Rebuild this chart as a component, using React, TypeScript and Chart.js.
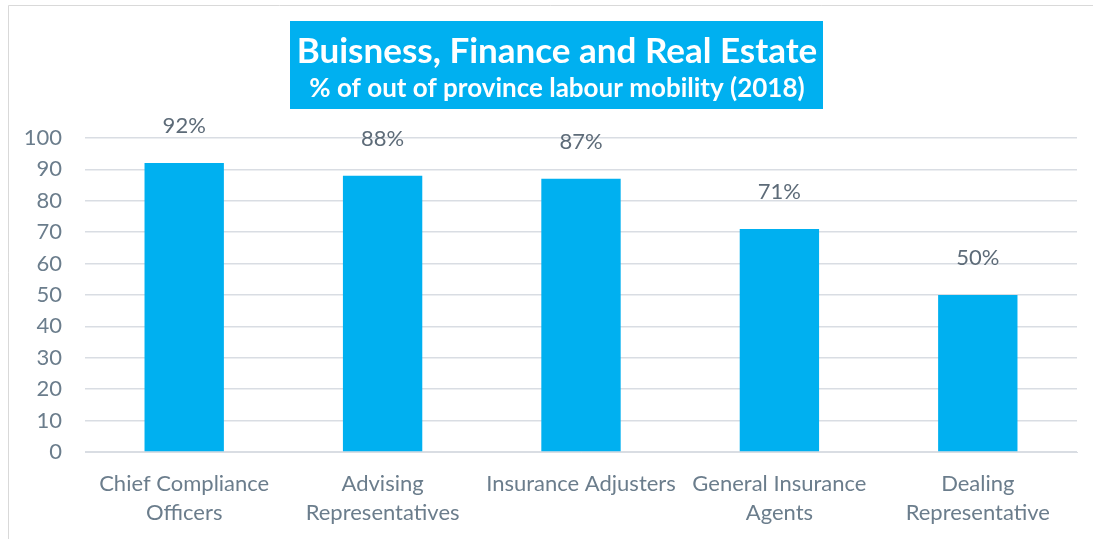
import React, { useEffect, useRef } from "react";
import { Chart, registerables } from "chart.js";

Chart.register(...registerables);

const categories: (string | string[])[] = [
  ["Chief Compliance", "Officers"],
  ["Advising", "Representatives"],
  "Insurance Adjusters",
  ["General Insurance", "Agents"],
  ["Dealing", "Representative"],
];
const mobility: number[] = [92, 88, 87, 71, 50];
const titleLines: string[] = ["Buisness, Finance and Real Estate", "% of out of province labour mobility (2018)"];

const FONT = "Lato, 'Open Sans', sans-serif";
const BLUE = "#00b0f0";
const TICK = "#6b7d8c";

const framePlugin = {
  id: "frame",
  beforeDraw(chart: any) {
    const ctx = chart.ctx;
    ctx.save();
    ctx.fillStyle = "#ffffff";
    ctx.fillRect(0, 0, chart.width, chart.height);
    ctx.strokeStyle = "#d9d9d9";
    ctx.lineWidth = 1;
    ctx.beginPath();
    ctx.moveTo(8.5, chart.height);
    ctx.lineTo(8.5, 5.5);
    ctx.lineTo(chart.width, 5.5);
    ctx.stroke();
    // title box
    const cx = 557;
    ctx.fillStyle = BLUE;
    ctx.fillRect(290, 21, 533, 88);
    ctx.fillStyle = "#ffffff";
    ctx.textAlign = "center";
    ctx.textBaseline = "middle";
    ctx.font = `bold 35px ${FONT}`;
    ctx.fillText(titleLines[0], cx, 52);
    ctx.font = `bold 26px ${FONT}`;
    ctx.fillText(titleLines[1], cx, 89);
    ctx.restore();
  },
};

const labelPlugin = {
  id: "valueLabels",
  afterDatasetsDraw(chart: any) {
    const ctx = chart.ctx;
    const meta = chart.getDatasetMeta(0);
    ctx.save();
    ctx.fillStyle = "#5d6b78";
    ctx.font = `22px ${FONT}`;
    ctx.textAlign = "center";
    ctx.textBaseline = "middle";
    meta.data.forEach((bar: any, i: number) => {
      ctx.fillText(`${mobility[i]}%`, bar.x, bar.y - 37);
    });
    ctx.restore();
  },
};

export default function App() {
  const ref = useRef<HTMLCanvasElement>(null);
  useEffect(() => {
    if (!ref.current) return;
    const chart = new Chart(ref.current, {
      type: "bar",
      data: {
        labels: categories,
        datasets: [
          {
            data: mobility,
            backgroundColor: BLUE,
            borderWidth: 0,
            categoryPercentage: 1,
            barPercentage: 0.4,
          },
        ],
      },
      options: {
        animation: false,
        responsive: false,
        maintainAspectRatio: false,
        layout: { padding: { top: 138, right: 16, left: 0, bottom: 0 } },
        plugins: {
          legend: { display: false },
          title: { display: false },
          tooltip: { enabled: false },
        },
        scales: {
          x: {
            grid: { display: false, drawTicks: false },
            border: { display: true, color: "#d9dde3", width: 1 },
            ticks: {
              color: TICK,
              font: { family: FONT, size: 22, lineHeight: 1.32 },
              padding: 17,
              maxRotation: 0,
              autoSkip: false,
            },
            afterFit(scale: any) {
              scale.height = 87;
            },
          },
          y: {
            min: 0,
            max: 100,
            ticks: {
              stepSize: 10,
              color: TICK,
              font: { family: FONT, size: 22 },
              padding: 23,
            },
            grid: { color: "#d9dde3", drawTicks: false, lineWidth: 1.5 },
            border: { display: false },
            afterFit(scale: any) {
              scale.width = 85;
            },
          },
        },
      },
      plugins: [framePlugin, labelPlugin],
    });
    return () => chart.destroy();
  }, []);
  return (
    <div style={{ position: "fixed", left: 0, top: 0, width: 1093, height: 539, background: "#fff" }}>
      <canvas ref={ref} width={1093} height={539} style={{ width: 1093, height: 539 }} />
    </div>
  );
}
